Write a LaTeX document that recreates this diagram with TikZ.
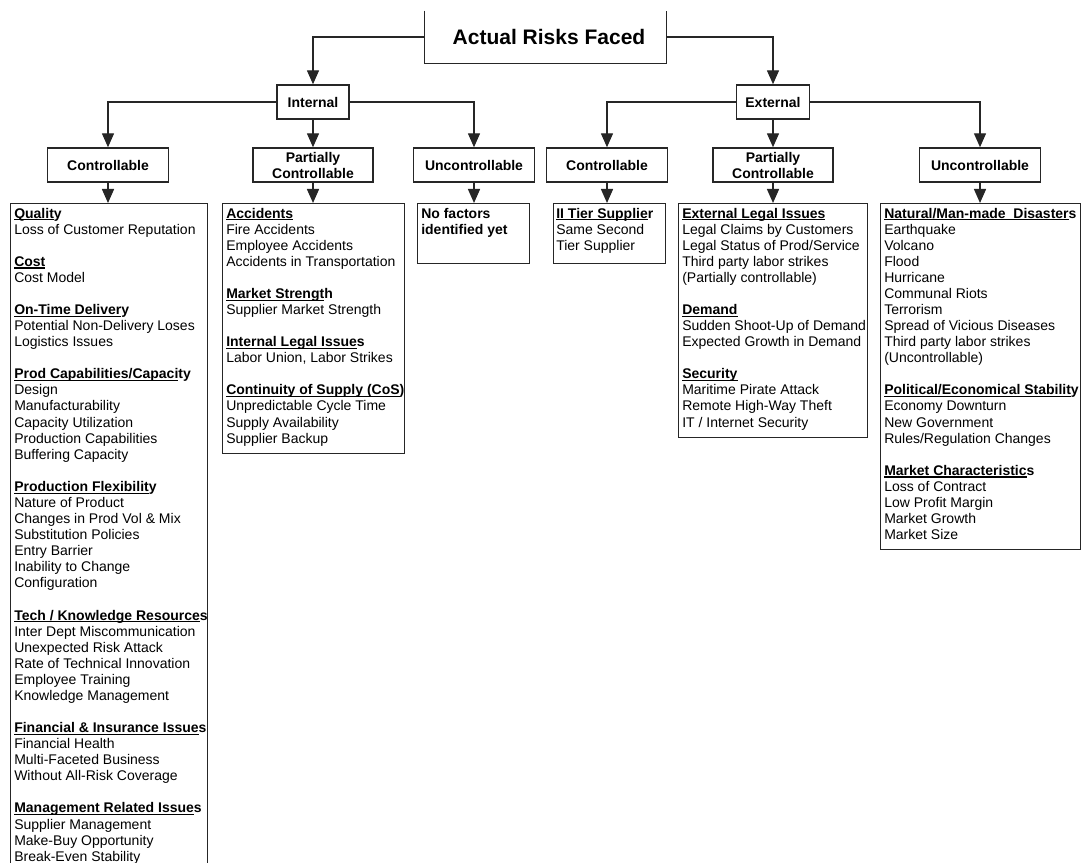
\documentclass[tikz,border=0pt]{standalone}
\usepackage{fontspec}
\setmainfont{Liberation Sans}
\usetikzlibrary{arrows.meta}
\newsavebox\hdbox
\newcommand\hd[2]{\textbf{\sbox\hdbox{#1}\rlap{\rule[-1.8pt]{\wd\hdbox}{0.9pt}}\usebox\hdbox #2}}
\newcommand\gap{\\[\baselineskip]}
\newcommand\cbody[1]{\parbox[t]{300pt}{\fontsize{10.5pt}{12.06pt}\selectfont\raggedright #1}}
\tikzset{
  ln/.style={line width=1.1pt, draw=black!85},
  arr/.style={ln, -{Triangle[length=10.5pt,width=9pt]}},
  hbox/.style={draw=black!85, line width=1.1pt, fill=white, inner sep=0pt,
    minimum height=34*0.75pt, align=center,
    font=\fontsize{10.5pt}{12pt}\selectfont\bfseries},
  cbox/.style={draw=black!85, line width=1.1pt, inner sep=0pt, anchor=north west},
  txt/.style={inner sep=0pt, anchor=base west},
}
\begin{document}
\begin{tikzpicture}[x=0.75pt, y=-0.75pt]
\useasboundingbox (0,0) rectangle (1081,863);
\clip (0,0) rectangle (1081,863);
\fill[white] (0,0) rectangle (1081,863);

% top
\node[inner sep=0pt, minimum width=241*0.75pt, minimum height=52*0.75pt] (T) at (545.5,37) {};
\node[inner sep=0pt, font=\fontsize{15.75pt}{18pt}\selectfont\bfseries] (Tt) at (549,37) {Actual Risks Faced};
\draw[ln] (T.north west) -- (T.south west) -- (T.south east) -- (T.north east);

% level 1
\node[hbox, minimum width=72*0.75pt] (I) at (313,102) {Internal};
\node[hbox, minimum width=73*0.75pt] (E) at (773,102) {External};

% level 2
\node[hbox, minimum width=121*0.75pt] (IC) at (108,165) {Controllable};
\node[hbox, minimum width=120*0.75pt] (IP) at (313,165) {Partially\\Controllable};
\node[hbox, minimum width=121*0.75pt] (IU) at (474,165) {Uncontrollable};
\node[hbox, minimum width=121*0.75pt] (EC) at (607,165) {Controllable};
\node[hbox, minimum width=120*0.75pt] (EP) at (773,165) {Partially\\Controllable};
\node[hbox, minimum width=121*0.75pt] (EU) at (980,165) {Uncontrollable};

% content boxes
\node[cbox, minimum width=197*0.75pt, minimum height=700*0.75pt] (C1) at (10,203) {};
\node[cbox, minimum width=182*0.75pt, minimum height=250*0.75pt] (C2) at (222,203) {};
\node[cbox, minimum width=112*0.75pt, minimum height=60*0.75pt] (C3) at (417,203) {};
\node[cbox, minimum width=112*0.75pt, minimum height=60*0.75pt] (C4) at (553,203) {};
\node[cbox, minimum width=189*0.75pt, minimum height=234*0.75pt] (C5) at (678,203) {};
\node[cbox, minimum width=200*0.75pt, minimum height=346*0.75pt] (C6) at (880,203) {};

% connectors
\draw[arr] (T.west) -| (I.north);
\draw[arr] (T.east) -| (E.north);
\draw[arr] (I.west) -| (IC.north);
\draw[arr] (I.south) -- (IP.north);
\draw[arr] (I.east) -| (IU.north);
\draw[arr] (E.west) -| (EC.north);
\draw[arr] (E.south) -- (EP.north);
\draw[arr] (E.east) -| (EU.north);
\draw[arr] (IC.south) -- (IC.south |- C1.north);
\draw[arr] (IP.south) -- (IP.south |- C2.north);
\draw[arr] (IU.south) -- (IU.south |- C3.north);
\draw[arr] (EC.south) -- (EC.south |- C4.north);
\draw[arr] (EP.south) -- (EP.south |- C5.north);
\draw[arr] (EU.south) -- (EU.south |- C6.north);

% texts
\node[txt] (t1) at (14,218) {\cbody{%
\hd{Qualit}{y}\\ Loss of Customer Reputation\gap
\hd{Cost}{}\\ Cost Model\gap
\hd{On-Time Deliver}{y}\\ Potential Non-Delivery Loses\\ Logistics Issues\gap
\hd{Prod Capabilities/Capaci}{ty}\\ Design\\ Manufacturability\\ Capacity Utilization\\ Production Capabilities\\ Buffering Capacity\gap
\hd{Production Flexibilit}{y}\\ Nature of Product\\ Changes in Prod Vol \& Mix\\ Substitution Policies\\ Entry Barrier\\ Inability to Change\\ Configuration\gap
\hd{Tech / Knowledge Resource}{s}\\ Inter Dept Miscommunication\\ Unexpected Risk Attack\\ Rate of Technical Innovation\\ Employee Training\\ Knowledge Management\gap
\hd{Financial \& Insurance Issue}{s}\\ Financial Health\\ Multi-Faceted Business\\ Without All-Risk Coverage\gap
\hd{Management Related Issue}{s}\\ Supplier Management\\ Make-Buy Opportunity\\ Break-Even Stability}};

\node[txt] (t2) at (226,218) {\cbody{%
\hd{Accidents}{}\\ Fire Accidents\\ Employee Accidents\\ Accidents in Transportation\gap
\hd{Market Strengt}{h}\\ Supplier Market Strength\gap
\hd{Internal Legal Issue}{s}\\ Labor Union, Labor Strikes\gap
\hd{Continuity of Supply (CoS}{)}\\ Unpredictable Cycle Time\\ Supply Availability\\ Supplier Backup}};

\node[txt] (t3) at (421,218) {\cbody{\bfseries No factors\\ identified yet}};

\node[txt] (t4) at (556,218) {\cbody{%
\hd{II Tier Supplie}{r}\\ Same Second\\ Tier Supplier}};

\node[txt] (t5) at (682,218) {\cbody{%
\hd{External Legal Issues}{}\\ Legal Claims by Customers\\ Legal Status of Prod/Service\\ Third party labor strikes\\ (Partially controllable)\gap
\hd{Demand}{}\\ Sudden Shoot-Up of Demand\\ Expected Growth in Demand\gap
\hd{Security}{}\\ Maritime Pirate Attack\\ Remote High-Way Theft\\ IT / Internet Security}};

\node[txt] (t6) at (884,218) {\cbody{%
\hd{Natural/Man-made~ Disaster}{s}\\ Earthquake\\ Volcano\\ Flood\\ Hurricane\\ Communal Riots\\ Terrorism\\ Spread of Vicious Diseases\\ Third party labor strikes\\ (Uncontrollable)\gap
\hd{Political/Economical Stabilit}{y}\\ Economy Downturn\\ New Government\\ Rules/Regulation Changes\gap
\hd{Market Characteristic}{s}\\ Loss of Contract\\ Low Profit Margin\\ Market Growth\\ Market Size}};
\end{tikzpicture}
\end{document}
